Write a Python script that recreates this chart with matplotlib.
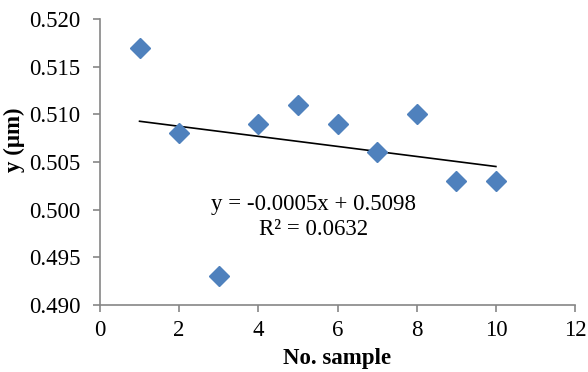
import matplotlib
matplotlib.use("Agg")
import matplotlib.pyplot as plt
import numpy as np

samples = [1, 2, 3, 4, 5, 6, 7, 8, 9, 10]
y_values = [0.517, 0.508, 0.493, 0.509, 0.511, 0.509, 0.506, 0.510, 0.503, 0.503]
x_ticks = [0, 2, 4, 6, 8, 10, 12]
y_ticks = [0.490, 0.495, 0.500, 0.505, 0.510, 0.515, 0.520]

plt.rcParams['font.family'] = ['Liberation Serif', 'DejaVu Serif']
FS = 16.5

fig = plt.figure(figsize=(5.88, 3.72), dpi=100)
ax = fig.add_axes([0.170, 0.180, 0.808, 0.769])

ax.plot(samples, y_values, linestyle='none', marker='D', markersize=10,
        color='#4F81BD', markeredgecolor='#4F81BD', zorder=3)

slope, intercept = np.polyfit(samples, y_values, 1)
xs = np.array([min(samples), max(samples)])
ax.plot(xs, slope * xs + intercept, color='black', linewidth=1.2, zorder=2)

pred = slope * np.array(samples) + intercept
ss_res = np.sum((np.array(y_values) - pred) ** 2)
ss_tot = np.sum((np.array(y_values) - np.mean(y_values)) ** 2)
r2 = 1 - ss_res / ss_tot

ax.text(5.40, 0.5005, f"y = {slope:.4f}x + {intercept:.4f}", ha='center', va='center', fontsize=FS)
ax.text(5.40, 0.4979, f"R² = {r2:.4f}", ha='center', va='center', fontsize=FS)

ax.set_xlim(0, 12)
ax.set_ylim(0.490, 0.520)
ax.set_xticks(x_ticks)
ax.set_yticks(y_ticks)
ax.set_yticklabels([f"{v:.3f}" for v in y_ticks])
ax.tick_params(axis='both', labelsize=FS, color='#868686', length=5, width=1.2, direction='out')
ax.tick_params(axis='x', pad=6)
ax.tick_params(axis='y', pad=9)

for s in ['top', 'right']:
    ax.spines[s].set_visible(False)
for s in ['left', 'bottom']:
    ax.spines[s].set_color('#868686')
    ax.spines[s].set_linewidth(1.2)

ax.set_xlabel("No. sample", fontsize=FS, fontweight='bold')
ax.set_ylabel("y (μm)", fontsize=FS, fontweight='bold')
ax.xaxis.set_label_coords(0.499, -0.150)
ax.yaxis.set_label_coords(-0.158, 0.577)

fig.savefig("out.png", dpi=100)
